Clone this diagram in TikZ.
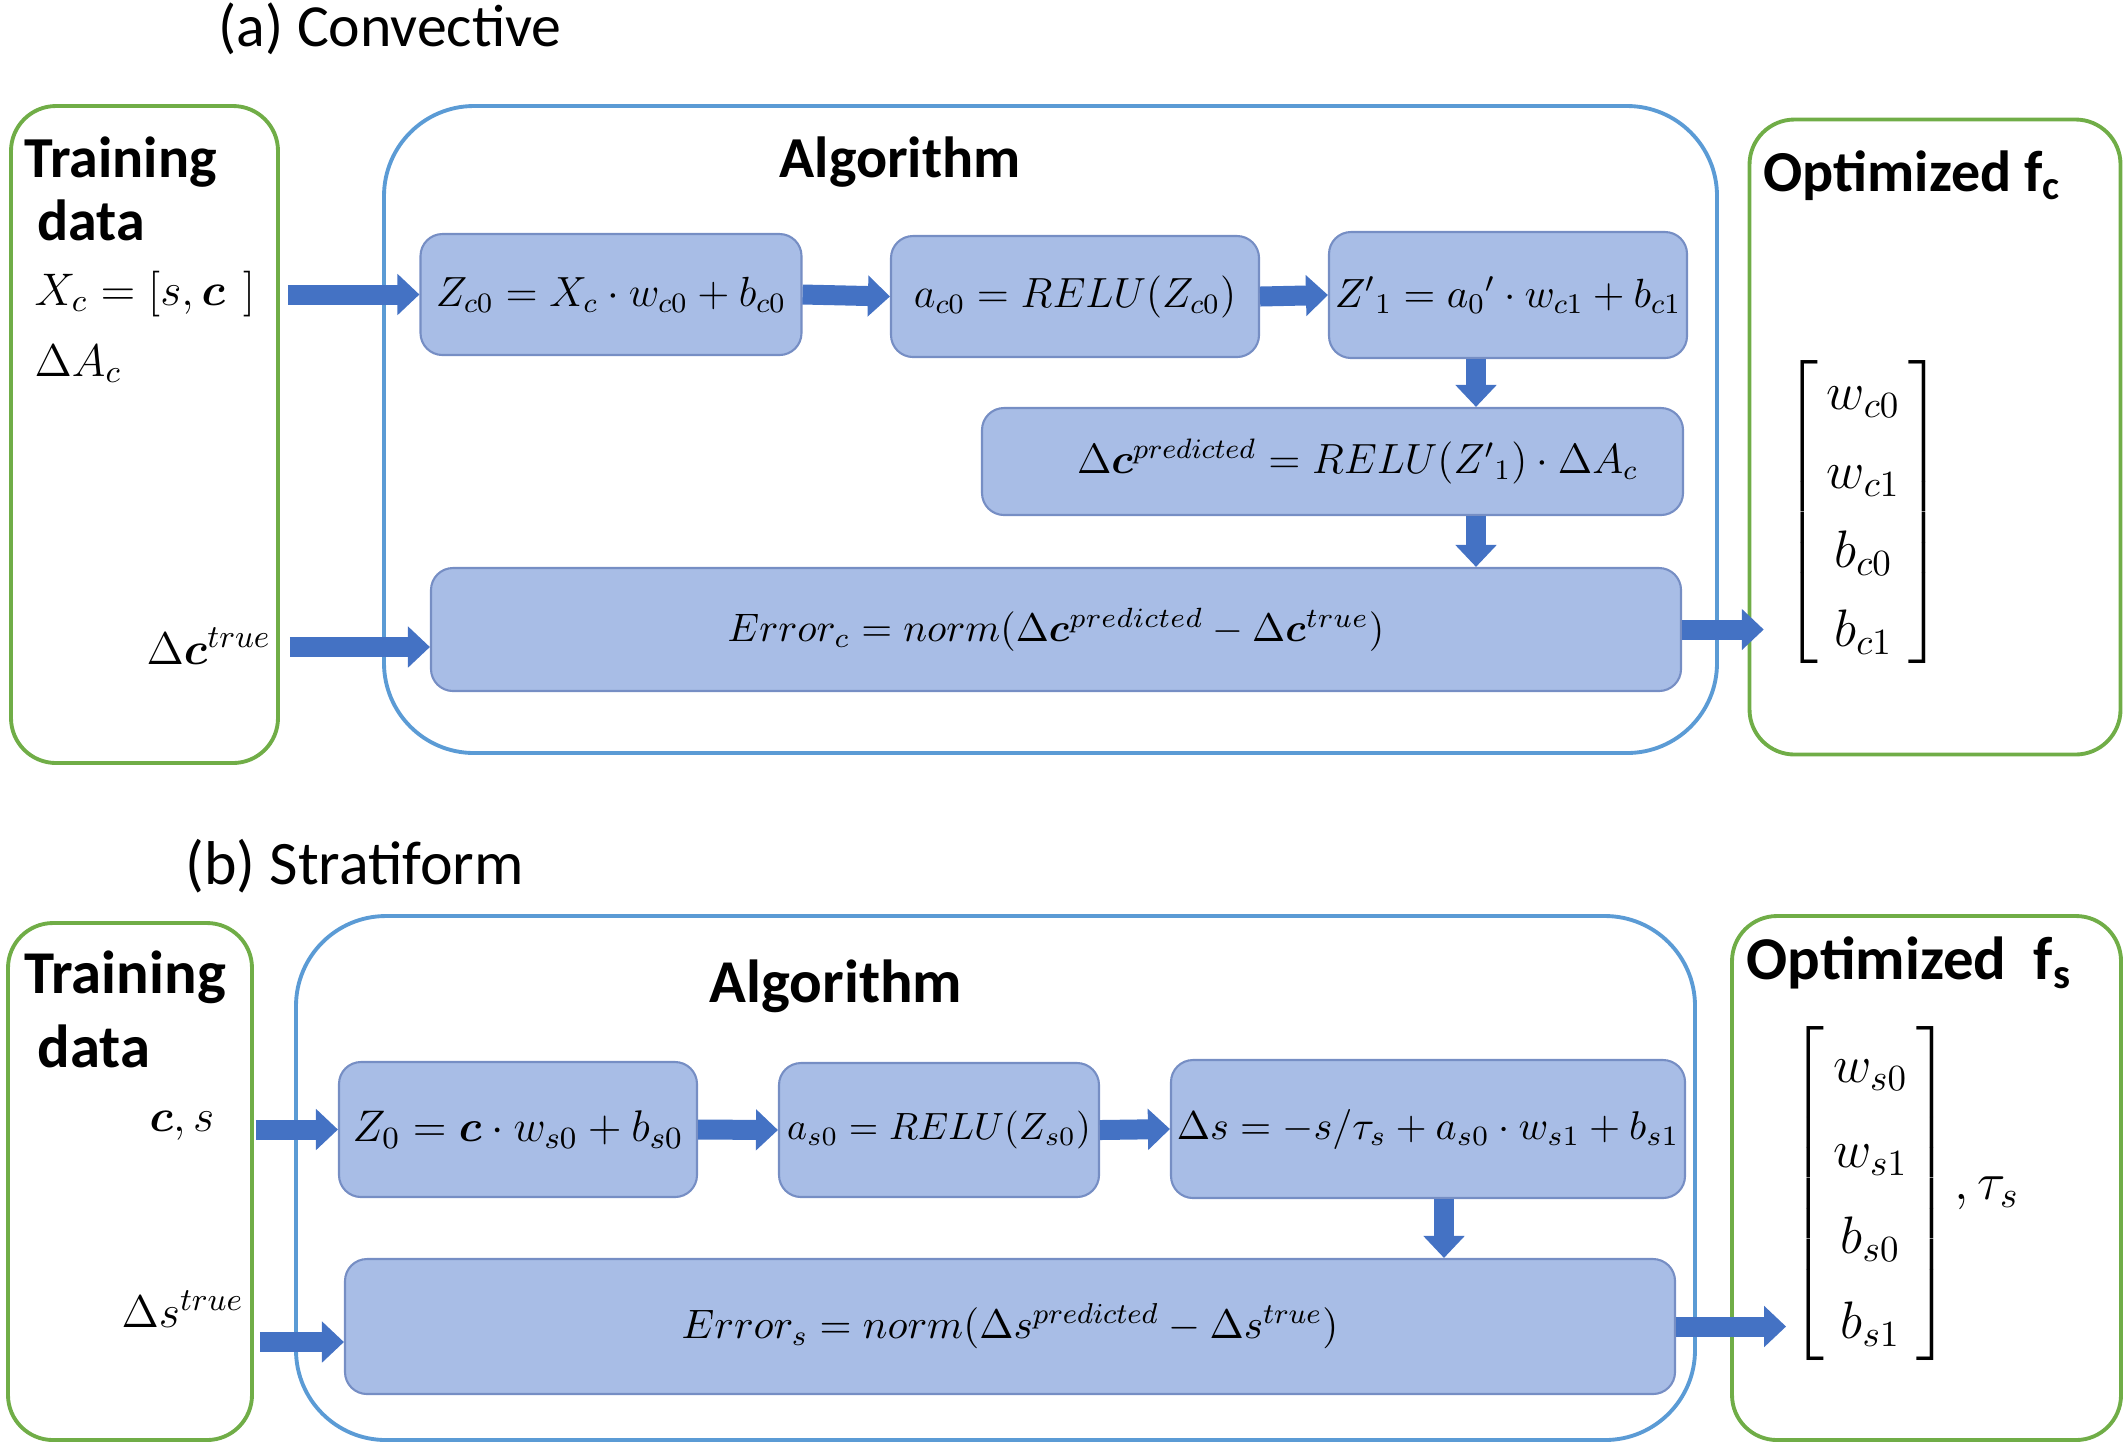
\RequirePackage{fix-cm}
\documentclass[tikz,border=0pt]{standalone}
\usepackage{amsmath}
\usepackage{bm}
\usepackage[no-math]{fontspec}
\setmainfont{Carlito}
\usetikzlibrary{arrows.meta,positioning,calc}
\definecolor{myblue}{RGB}{68,114,196}
\definecolor{mygreen}{RGB}{112,173,71}
\definecolor{algblue}{RGB}{91,155,213}
\definecolor{boxfill}{RGB}{168,189,230}
\definecolor{boxline}{RGB}{118,142,196}

\begin{document}
\begin{tikzpicture}[
  panel/.style={draw=mygreen,line width=1.1pt,rounded corners=0.45cm,inner sep=0pt},
  algbox/.style={draw=algblue,line width=1.1pt,rounded corners=0.9cm,inner sep=0pt},
  eqbox/.style={draw=boxline,fill=boxfill,line width=0.6pt,rounded corners=0.22cm,inner sep=0pt,font=\fontsize{12}{14}\selectfont},
  eqpt/.style={font=\fontsize{#1}{14}\selectfont},
  flow/.style={color=myblue,line width=0.2cm,-{Triangle[length=0.22cm,width=0.4cm]}},
  title/.style={anchor=base west,inner sep=0pt,font=\fontsize{17}{20}\selectfont},
  head/.style={anchor=base west,inner sep=0pt,font=\fontsize{16.5}{19}\selectfont\bfseries},
  headb/.style={anchor=base west,inner sep=0pt,font=\fontsize{17.3}{20}\selectfont\bfseries},
  lbl/.style={anchor=base west,inner sep=0pt,font=\fontsize{13}{15}\selectfont},
  param/.style={inner sep=0pt,font=\fontsize{15}{18}\selectfont}]
\useasboundingbox (0,0) rectangle (21.28,-14.45);
% (a) convective
\node[title] at (2.18,-0.46) {(a) Convective};
\node[panel,minimum width=2.67cm,minimum height=6.57cm] (trainA) at (1.445,-4.345) {};
\node[algbox,minimum width=13.33cm,minimum height=6.47cm] (algA) at (10.505,-4.295) {};
\node[panel,minimum width=3.71cm,minimum height=6.35cm] (optA) at (19.35,-4.37) {};
\node[head] at (0.24,-1.77) {Training};
\node[head] at (0.37,-2.40) {data};
\node[lbl] (xA) at (0.34,-3.05) {$X_c = [s, \bm{c}\ \,]$};
\node[lbl] at (0.34,-3.76) {$\Delta A_c$};
\node[lbl] (dcA) at (1.46,-6.64) {$\Delta\bm{c}^{true}$};
\node[head] at (7.79,-1.77) {Algorithm};
\node[head] at (17.63,-1.91) {Optimized f\textsubscript{c}};
\node[eqbox,minimum width=3.81cm,minimum height=1.21cm] (zA) at (6.11,-2.945) {$Z_{c0} = X_c \cdot w_{c0} + b_{c0}$};
\node[eqbox,minimum width=3.68cm,minimum height=1.21cm] (aA) at (10.75,-2.965) {$a_{c0} = RELU(Z_{c0})$};
\node[eqbox,eqpt=11.6,minimum width=3.58cm,minimum height=1.26cm] (zpA) at (15.08,-2.95) {$Z'{}_{1} = a_0{}^{\prime} \cdot w_{c1} + b_{c1}$};
\node[eqbox,minimum width=7.01cm,minimum height=1.07cm] (predA) at (13.325,-4.615) {\hspace{0.5cm}$\Delta\bm{c}^{predicted} = RELU(Z'{}_{1}) \cdot \Delta A_c$};
\node[eqbox,eqpt=11.3,minimum width=12.5cm,minimum height=1.23cm] (errA) at (10.56,-6.295) {$Error_c = norm(\Delta\bm{c}^{predicted} - \Delta\bm{c}^{true})$};
\node[param] (matA) at (18.635,-5.12) {$\renewcommand\arraystretch{1.25}\begin{bmatrix} \,w_{c0}\,\\ \,w_{c1}\,\\ \,b_{c0}\,\\ \,b_{c1}\, \end{bmatrix}$};
\coordinate (downA) at (14.76,0);
\coordinate (inA) at (0,-6.47);
\draw[flow,shorten <=0.08cm] (zA.west -| trainA.east) -- (zA.west);
\draw[flow] (zA.east) -- (aA.west);
\draw[flow] (aA.east) -- (zpA.west);
\draw[flow] (zpA.south -| downA) -- (predA.north -| downA);
\draw[flow] (predA.south -| downA) -- (errA.north -| downA);
\draw[flow,shorten <=0.1cm] (inA -| trainA.east) -- (inA -| errA.west);
\draw[flow,shorten >=0.2cm] (errA.east) -- (errA.east -| matA.west);
% (b) stratiform
\node[title,font=\fontsize{17.6}{21}\selectfont] at (1.85,-8.84) {(b) Stratiform};
\node[panel,minimum width=2.44cm,minimum height=5.17cm] (trainB) at (1.30,-11.815) {};
\node[algbox,minimum width=13.99cm,minimum height=5.24cm] (algB) at (9.955,-11.78) {};
\node[panel,minimum width=3.89cm,minimum height=5.24cm] (optB) at (19.265,-11.78) {};
\node[headb] at (0.24,-9.93) {Training};
\node[headb] at (0.37,-10.67) {data};
\node[lbl] (csB) at (1.49,-11.31) {$\bm{c}, s$};
\node[lbl] (dsT) at (1.21,-13.27) {$\Delta s^{true}$};
\node[headb] at (7.09,-10.02) {Algorithm};
\node[headb] at (17.46,-9.79) {Optimized\ \ f\textsubscript{s}};
\node[eqbox,eqpt=12.6,minimum width=3.58cm,minimum height=1.35cm] (zB) at (5.18,-11.295) {$Z_0 = \bm{c} \cdot w_{s0} + b_{s0}$};
\node[eqbox,eqpt=10.8,minimum width=3.20cm,minimum height=1.34cm] (aB) at (9.39,-11.30) {$a_{s0} = RELU(Z_{s0})$};
\node[eqbox,eqpt=11.4,minimum width=5.14cm,minimum height=1.38cm] (dsB) at (14.28,-11.29) {$\Delta s = -s / \tau_s + a_{s0} \cdot w_{s1} + b_{s1}$};
\node[eqbox,eqpt=11.7,minimum width=13.30cm,minimum height=1.35cm] (errB) at (10.10,-13.265) {$Error_s = norm(\Delta s^{predicted} - \Delta s^{true})$};
\node[param] (matB) at (18.705,-11.935) {$\renewcommand\arraystretch{1.35}\begin{bmatrix} \,w_{s0}\,\\ \,w_{s1}\,\\ \,b_{s0}\,\\ \,b_{s1}\, \end{bmatrix}$};
\node[param,right=0.03cm of matB] (tauB) {$,\tau_s$};
\coordinate (downB) at (14.44,0);
\coordinate (inB) at (0,-13.42);
\draw[flow,shorten <=0.02cm] (zB.west -| trainB.east) -- (zB.west);
\draw[flow] (zB.east) -- (aB.west);
\draw[flow] (aB.east) -- (dsB.west);
\draw[flow] (dsB.south -| downB) -- (errB.north -| downB);
\draw[flow,shorten <=0.06cm] (inB -| trainB.east) -- (inB -| errB.west);
\draw[flow,shorten >=0.04cm] (errB.east) -- (errB.east -| matB.west);
\end{tikzpicture}
\end{document}
